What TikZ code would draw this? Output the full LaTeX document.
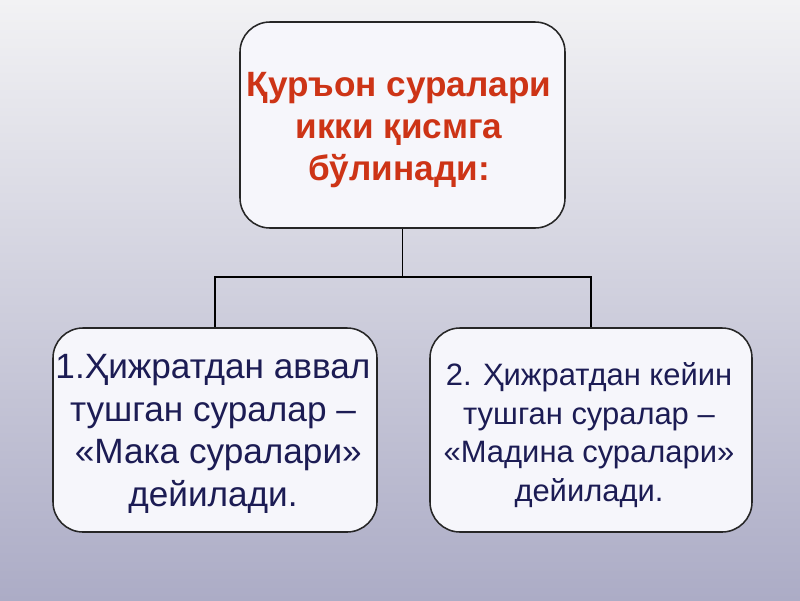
\documentclass[tikz,border=0pt]{standalone}
\usepackage{fontspec}
\setmainfont{Liberation Sans}
\definecolor{bgtop}{RGB}{242,242,244}
\definecolor{bgbot}{RGB}{172,172,198}
\definecolor{boxfill}{RGB}{246,246,251}
\definecolor{titlered}{RGB}{205,52,22}
\definecolor{navytext}{RGB}{28,28,84}
\tikzset{
  roundbox/.style={draw=black!85, line width=1.1pt, fill=boxfill, rounded corners=0.75cm,
    inner sep=0pt},
  boxtext/.style={inner sep=0pt, align=center},
  link/.style={draw=black, line width=1.4pt}
}
\begin{document}
\begin{tikzpicture}[x=0.025cm,y=-0.025cm]
\useasboundingbox (0,0) rectangle (800,600);
\shade[top color=bgtop, bottom color=bgbot] (0,0) rectangle (800,600);
\node[roundbox, minimum width=325*0.025cm, minimum height=206*0.025cm] (top) at (402.5,125) {};
\node[roundbox, minimum width=324*0.025cm, minimum height=204*0.025cm] (left) at (215,430) {};
\node[roundbox, minimum width=322*0.025cm, minimum height=204*0.025cm] (right) at (591,430) {};
\node[boxtext, font=\bfseries\fontsize{25}{30}\selectfont, text=titlered] (toptext) at (399,130)
  {Қуръон суралари\\икки қисмга\\бўлинади:};
\node[boxtext, font=\fontsize{25}{30.3}\selectfont, text=navytext] (lefttext) at (213,434)
  {1.Ҳижратдан аввал\\тушган суралар –\\\hspace*{0.3em}«Мака суралари»\\дейилади.};
\node[boxtext, font=\fontsize{22}{27.5}\selectfont, text=navytext] (righttext) at (589,435)
  {2. Ҳижратдан кейин\\тушган суралар –\\«Мадина суралари»\\дейилади.};
\coordinate (mid) at (402.5,277);
\draw[link] (top.south) -- (mid);
\draw[link] (left.north) |- (mid) -| (right.north);
\end{tikzpicture}
\end{document}
